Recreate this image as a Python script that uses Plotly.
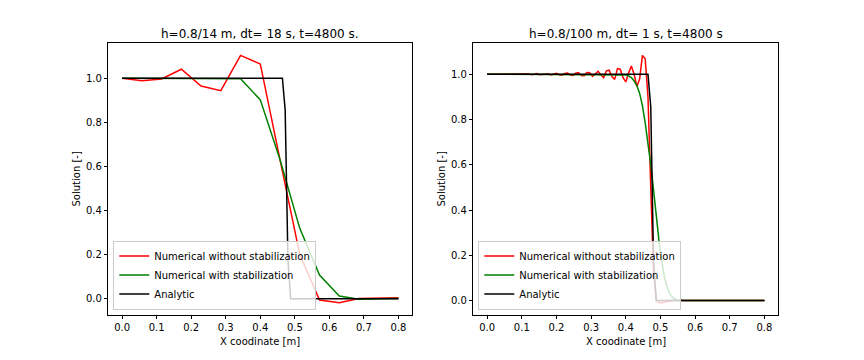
import numpy as np
import plotly.graph_objects as go

# ---------------- data ----------------
# Left panel: coarse mesh h = 0.8/14 (15 nodes)
x_left = np.linspace(0.0, 0.8, 15)
red_left = [1.0, 0.989, 0.997, 1.041, 0.965, 0.944, 1.104, 1.065, 0.63, 0.2,
            -0.006, -0.018, 0.001, 0.004, 0.004]
green_left = [1.0, 1.0, 1.0, 1.0, 0.998, 1.0, 0.998, 0.902, 0.63, 0.319,
              0.107, 0.012, -0.003, 0.0, 0.001]

# Right panel: fine mesh h = 0.8/100 (101 nodes)
x_right = np.linspace(0.0, 0.8, 101)
red_right = ([1.0] * 13 +
             [1.001, 0.999, 1.002, 0.998, 1.001, 1.003, 0.998, 0.999, 1.003, 1.002,
              0.997, 1.001, 1.004, 0.998, 0.996, 1.003, 1.005, 0.996, 0.995, 1.005,
              1.006, 0.994, 0.993, 1.008, 1.007, 0.99, 1.0, 1.013, 0.998, 0.985,
              1.015, 1.018, 0.99, 0.977, 1.025, 1.022, 0.985, 0.966, 1.005, 1.036,
              1.0, 0.945, 0.98, 1.083, 1.068, 0.9, 0.5, 0.12, 0.0, -0.009,
              -0.01, -0.007, -0.003, -0.001] +
             [0.0] * 34)
green_right = ([1.0] * 49 +
               [0.999, 0.997, 0.993, 0.985, 0.97, 0.95, 0.915, 0.86, 0.785, 0.70,
                0.60, 0.49, 0.37, 0.26, 0.17, 0.10, 0.055, 0.027, 0.012, 0.005,
                0.002] +
               [0.0] * 31)

# Analytic solution (sampled on 0.008 grid)
x_analytic = np.linspace(0.0, 0.8, 101)
analytic = [1.0] * 59 + [0.856, 0.176] + [0.0] * 40

titles = ["h=0.8/14 m, dt= 18 s, t=4800 s.", "h=0.8/100 m, dt= 1 s, t=4800 s"]
x_label = "X coodinate [m]"
y_label = "Solution [-]"
names = ["Numerical without stabilization", "Numerical with stabilization", "Analytic"]
colors = ["#ff0000", "#008000", "#000000"]

# ---------------- figure ----------------
FONT = "DejaVu Sans"
fig = go.Figure()

panels = [
    ("x", "y", "legend", x_left, red_left, green_left),
    ("x2", "y2", "legend2", x_right, red_right, green_right),
]
for xa, ya, lg, xs, r, g in panels:
    for name, col, xx, yy in [(names[0], colors[0], xs, r),
                              (names[1], colors[1], xs, g),
                              (names[2], colors[2], x_analytic, analytic)]:
        fig.add_trace(go.Scatter(x=xx, y=yy, mode="lines", name=name,
                                 line=dict(color=col, width=1.5),
                                 xaxis=xa, yaxis=ya, legend=lg))

axis_common = dict(showline=True, linecolor="black", linewidth=0.8, mirror=True,
                   ticks="outside", ticklen=3.5, tickwidth=0.8, tickcolor="black",
                   showgrid=False, zeroline=False,
                   tickfont=dict(family=FONT, size=10, color="black"))

W, H = 864, 360
xdom1 = [108.3 / W, 412.3 / W]
xdom2 = [473.3 / W, 778.3 / W]
ydom = [1 - 315 / H, 1 - 43 / H]

fig.update_layout(
    width=W, height=H,
    margin=dict(l=0, r=0, t=0, b=0),
    paper_bgcolor="white", plot_bgcolor="white",
    font=dict(family=FONT, size=10, color="black"),
    xaxis=dict(domain=xdom1, anchor="y", range=[-0.04, 0.84], tick0=0, dtick=0.1,
               tickformat=".1f", **axis_common),
    yaxis=dict(domain=ydom, anchor="x", range=[-0.074, 1.160], tick0=0, dtick=0.2,
               tickformat=".1f", **axis_common),
    xaxis2=dict(domain=xdom2, anchor="y2", range=[-0.04, 0.84], tick0=0, dtick=0.1,
                tickformat=".1f", **axis_common),
    yaxis2=dict(domain=ydom, anchor="x2", range=[-0.064, 1.138], tick0=0, dtick=0.2,
                tickformat=".1f", **axis_common),
    legend=dict(x=113.3 / W, y=1 - 309.5 / H, xanchor="left", yanchor="bottom",
                bgcolor="rgba(255,255,255,0.8)", bordercolor="#cccccc", borderwidth=1,
                font=dict(family=FONT, size=10, color="black"), tracegroupgap=0),
    legend2=dict(x=478.3 / W, y=1 - 309.5 / H, xanchor="left", yanchor="bottom",
                 bgcolor="rgba(255,255,255,0.8)", bordercolor="#cccccc", borderwidth=1,
                 font=dict(family=FONT, size=10, color="black"), tracegroupgap=0),
)

annotations = []
for dom, title in [(xdom1, titles[0]), (xdom2, titles[1])]:
    cx = (dom[0] + dom[1]) / 2
    annotations.append(dict(text=title, x=cx, y=1 - 34 / H, xref="paper", yref="paper",
                            xanchor="center", yanchor="middle", showarrow=False,
                            font=dict(family=FONT, size=12, color="black")))
    annotations.append(dict(text=x_label, x=cx, y=1 - 341.5 / H, xref="paper", yref="paper",
                            xanchor="center", yanchor="middle", showarrow=False,
                            font=dict(family=FONT, size=10, color="black")))
for px in [75.5, 440.5]:
    annotations.append(dict(text=y_label, x=px / W, y=1 - 179 / H, xref="paper", yref="paper",
                            xanchor="center", yanchor="middle", showarrow=False, textangle=-90,
                            font=dict(family=FONT, size=10, color="black")))
fig.update_layout(annotations=annotations)

fig.write_html("out.html",
               config={"displayModeBar": False},
               post_script="document.body.style.margin='0px';document.body.style.overflow='hidden';")
